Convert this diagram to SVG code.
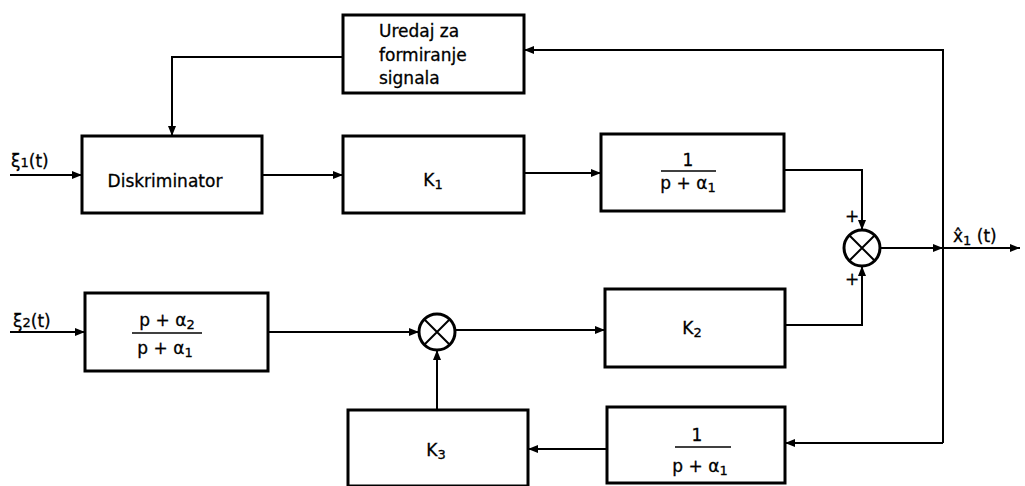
<svg xmlns="http://www.w3.org/2000/svg" width="1025" height="486" viewBox="0 0 1025 486">
<style>
.box{fill:#fff;stroke:#000;stroke-width:3}
.ln{fill:none;stroke:#000;stroke-width:2;marker-end:url(#ah)}
.pl{fill:none;stroke:#000;stroke-width:2}
.t{font-family:"DejaVu Sans",sans-serif;font-size:17px;fill:#000;stroke:#000;stroke-width:0.3}
.c{text-anchor:middle}
.sub{font-size:13px}
</style>
<defs>
<marker id="ah" viewBox="0 0 10 10" refX="10" refY="5" markerWidth="5" markerHeight="5" orient="auto" markerUnits="strokeWidth">
<path d="M0,1 L10,5 L0,9 z" fill="#000"/>
</marker>
</defs>
<g id="connectors">
<path class="ln" d="M943,443 L943,50 L524,50"/>
<path class="ln" d="M343,57 L172,57 L172,136"/>
<path class="ln" d="M10,175 L82,175"/>
<path class="ln" d="M262,175 L343,175"/>
<path class="ln" d="M524,173 L601,173"/>
<path class="ln" d="M784,170 L862,170 L862,230"/>
<path class="ln" d="M880,248 L943,248"/>
<path class="ln" d="M943,248 L1020,248"/>
<path class="ln" d="M10,332 L85,332"/>
<path class="ln" d="M268,332 L419,332"/>
<path class="ln" d="M455,330 L605,330"/>
<path class="ln" d="M785,325 L862,325 L862,266"/>
<path class="ln" d="M943,443 L785,443"/>
<path class="ln" d="M607,449 L528,449"/>
<path class="ln" d="M437,410 L437,350"/>
</g>
<g id="n_uredaj">
<rect class="box" x="343" y="15" width="181" height="78"/>
<text class="t" x="379" y="37">Uredaj za</text>
<text class="t" x="379" y="61">formiranje</text>
<text class="t" x="379" y="84">signala</text>
</g>
<g id="n_diskriminator">
<rect class="box" x="82" y="136" width="180" height="77"/>
<text class="t c" x="165" y="187">Diskriminator</text>
</g>
<g id="n_k1">
<rect class="box" x="343" y="136" width="181" height="77"/>
<text class="t c" x="433" y="186">K<tspan class="sub" dy="3">1</tspan></text>
</g>
<g id="n_f1">
<rect class="box" x="601" y="134" width="183" height="77"/>
<text class="t c" x="688" y="166">1</text>
<line x1="661" y1="171" x2="716" y2="171" stroke="#000" stroke-width="1.5"/>
<text class="t c" x="688" y="189">p + α<tspan class="sub" dy="3">1</tspan></text>
</g>
<g id="n_sum1">
<circle cx="862" cy="248" r="18" fill="#fff" stroke="#000" stroke-width="3"/>
<path class="pl" d="M849,235 L875,261 M875,235 L849,261" stroke-width="2.5"/>
<text class="t" x="845" y="222" font-size="12">+</text>
<text class="t" x="845" y="285" font-size="12">+</text>
</g>
<g id="n_out">
<text class="t" x="953" y="242">x̂<tspan class="sub" dy="3">1</tspan><tspan dy="-3"> (t)</tspan></text>
</g>
<g id="n_in1">
<text class="t" x="11" y="167">ξ<tspan class="sub">1</tspan>(t)</text>
</g>
<g id="n_in2">
<text class="t" x="13" y="327">ξ<tspan class="sub">2</tspan>(t)</text>
</g>
<g id="n_f2">
<rect class="box" x="85" y="293" width="183" height="78"/>
<text class="t c" x="167" y="326">p + α<tspan class="sub" dy="3">2</tspan></text>
<line x1="132" y1="333" x2="202" y2="333" stroke="#000" stroke-width="1.5"/>
<text class="t c" x="165" y="354">p + α<tspan class="sub" dy="3">1</tspan></text>
</g>
<g id="n_sum2">
<circle cx="437" cy="332" r="18" fill="#fff" stroke="#000" stroke-width="3"/>
<path class="pl" d="M424,319 L450,345 M450,319 L424,345" stroke-width="2.5"/>
</g>
<g id="n_k2">
<rect class="box" x="605" y="289" width="180" height="78"/>
<text class="t c" x="692" y="334">K<tspan class="sub" dy="3">2</tspan></text>
</g>
<g id="n_k3">
<rect class="box" x="348" y="410" width="180" height="76"/>
<text class="t c" x="436" y="456">K<tspan class="sub" dy="3">3</tspan></text>
</g>
<g id="n_f3">
<rect class="box" x="607" y="407" width="178" height="76"/>
<text class="t c" x="697" y="441">1</text>
<line x1="675" y1="447" x2="731" y2="447" stroke="#000" stroke-width="1.5"/>
<text class="t c" x="700" y="472">p + α<tspan class="sub" dy="3">1</tspan></text>
</g>
</svg>
